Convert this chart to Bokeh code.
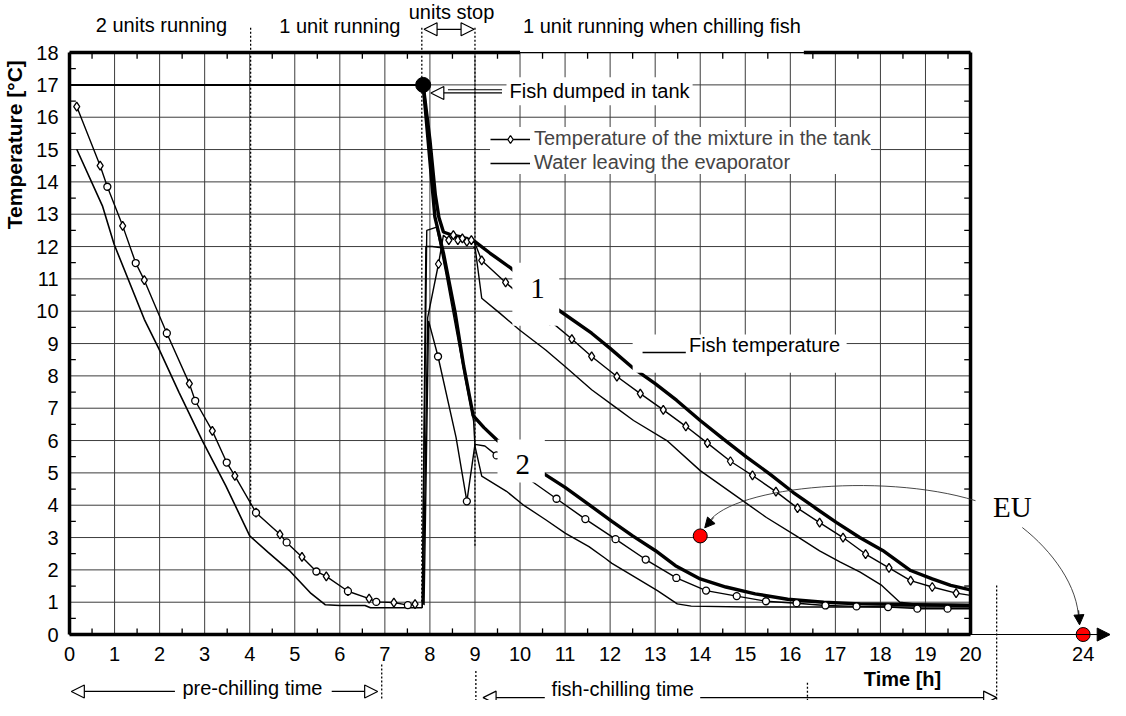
import numpy as np
from bokeh.plotting import figure
from bokeh.models import (Range1d, FixedTicker, Label, Arrow, NormalHead,
                          Legend, LegendItem)
from bokeh.embed import file_html
from bokeh.resources import INLINE

# ---------------- axis ticks ----------------
x_ticks = list(range(0, 21)) + [22.5]
x_tick_labels = [str(i) for i in range(0, 21)] + ["24"]
y_ticks = list(range(0, 19))

# ---------------- pre-chilling (0-8 h) ----------------
mix1_pre_h = [0.16, 0.68, 1.18, 1.66, 2.16, 2.66, 3.17, 3.67, 4.14, 4.67, 5.16, 5.70, 6.18, 6.65, 7.20, 7.67]
mix1_pre_T = [16.33, 14.50, 12.64, 10.96, 9.32, 7.76, 6.30, 4.91, 3.77, 3.10, 2.40, 1.80, 1.34, 1.11, 0.99, 0.94]
mix2_pre_h = [0.84, 1.47, 2.16, 2.79, 3.49, 4.14, 4.82, 5.48, 6.18, 6.81, 7.51]
mix2_pre_T = [13.85, 11.49, 9.32, 7.23, 5.32, 3.77, 2.85, 1.95, 1.34, 1.01, 0.91]
water_pre_h = [0.16, 0.73, 0.99, 1.66, 1.99, 2.43, 2.95, 3.47, 4.00, 4.41, 4.88, 5.36, 5.68, 6.00, 6.56, 6.68, 7.83]
water_pre_T = [15.01, 13.26, 12.07, 9.75, 8.82, 7.49, 5.99, 4.60, 3.05, 2.54, 1.98, 1.27, 0.92, 0.90, 0.90, 0.83, 0.83]

# ---------------- after fish dumped (run 1) ----------------
mix1_h = [7.85, 7.95, 8.19, 8.30, 8.42, 8.52, 8.62, 8.72, 8.82, 8.92, 9.00, 9.15, 9.68, 10.17, 10.66, 11.15,
          11.59, 12.15, 12.67, 13.18, 13.68, 14.16, 14.67, 15.16, 15.68, 16.16, 16.65, 17.17, 17.67, 18.19,
          18.67, 19.15, 19.68, 20.00]
mix1_T = [0.93, 9.80, 11.46, 12.35, 12.20, 12.35, 12.20, 12.25, 12.15, 12.20, 12.10, 11.57, 10.89, 10.30, 9.71, 9.14,
          8.60, 7.98, 7.45, 6.95, 6.44, 5.92, 5.36, 4.92, 4.42, 3.91, 3.46, 3.00, 2.49, 2.06,
          1.67, 1.47, 1.28, 1.21]
mix1_mark = [0, 0, 1, 0, 1, 1, 1, 1, 1, 1, 0, 1, 1, 1, 1, 1,
             1, 1, 1, 1, 1, 1, 1, 1, 1, 1, 1, 1, 1, 1,
             1, 1, 1, 0]
water1_h = [7.83, 7.91, 8.05, 8.30, 8.96, 9.00, 9.15, 9.55, 9.99, 10.57, 11.00, 11.59, 12.10, 12.52, 13.26, 14.00,
            14.73, 15.47, 16.13, 16.65, 17.10, 17.55, 18.03, 18.43, 18.75, 20.00]
water1_T = [0.83, 12.00, 12.00, 11.95, 11.95, 12.00, 10.40, 9.94, 9.42, 8.80, 8.29, 7.57, 7.05, 6.62, 6.00, 5.07,
            4.35, 3.62, 3.05, 2.59, 2.25, 1.93, 1.52, 1.00, 0.95, 0.93]
fish1_h = [7.85, 8.00, 8.12, 8.20, 8.30, 8.50, 8.70, 9.00, 9.33, 9.80, 10.30, 10.79, 11.59, 12.00, 12.52, 13.00,
           13.48, 14.00, 14.51, 15.03, 15.54, 16.06, 16.54, 17.02, 17.54, 18.05, 18.67, 19.15, 19.56, 20.00]
fish1_T = [17.00, 15.30, 13.60, 12.90, 12.45, 12.35, 12.30, 12.15, 11.80, 11.33, 10.70, 10.10, 9.32, 8.85, 8.23, 7.76,
           7.24, 6.62, 6.05, 5.49, 4.97, 4.40, 3.93, 3.47, 3.00, 2.60, 1.98, 1.72, 1.52, 1.38]

# ---------------- after fish dumped (run 2) ----------------
mix2_h = [7.87, 7.97, 8.18, 8.58, 8.82, 9.00, 9.22, 9.48, 10.15, 10.81, 11.45, 12.12, 12.79, 13.47, 14.13, 14.81,
          15.46, 16.14, 16.78, 17.47, 18.17, 18.82, 19.49, 20.00]
mix2_T = [0.91, 9.70, 8.60, 6.10, 4.12, 5.88, 5.83, 5.54, 4.85, 4.20, 3.57, 2.95, 2.32, 1.75, 1.36, 1.19,
          1.03, 0.97, 0.90, 0.87, 0.85, 0.80, 0.80, 0.80]
mix2_mark = [0, 0, 1, 0, 1, 0, 0, 1, 1, 1, 1, 1, 1, 1, 1, 1,
             1, 1, 1, 1, 1, 1, 1, 0]
water2_h = [7.83, 7.93, 8.15, 8.35, 8.60, 8.80, 8.97, 9.00, 9.15, 9.70, 10.06, 10.57, 11.01, 11.53, 11.89, 12.04,
            12.56, 13.05, 13.49, 13.80, 15.00, 20.00]
water2_T = [0.83, 12.50, 12.60, 11.20, 9.30, 7.80, 6.60, 5.83, 4.90, 4.43, 4.02, 3.55, 3.13, 2.72, 2.36, 2.20,
            1.77, 1.36, 0.95, 0.88, 0.85, 0.85]
fish2_h = [7.85, 8.11, 8.30, 8.56, 8.75, 8.96, 9.20, 9.50, 10.00, 10.50, 11.00, 11.50, 12.04, 12.50, 13.00, 13.45,
           14.00, 14.57, 15.22, 15.94, 16.74, 17.55, 20.00]
fish2_T = [17.00, 12.92, 11.80, 9.95, 8.30, 6.77, 6.40, 6.00, 5.55, 5.00, 4.55, 4.05, 3.50, 3.05, 2.60, 2.13,
           1.72, 1.47, 1.26, 1.09, 1.00, 0.95, 0.90]

# initial fish temperature / dump point
fish_init_h = [0.0, 7.85]
fish_init_T = [17.0, 17.0]
dump_h = [7.85]
dump_T = [17.0]

# EU points (3 degC at 14 h ; 0 degC at 24 h on the broken axis)
eu_h = [14.0, 22.5]
eu_T = [3.05, 0.0]

# ---------------- figure ----------------
FONT = "Liberation Sans"
SERIF = "Liberation Serif"
GRID = "#3c3c3c"
TS = "20px"

p = figure(width=1110, height=700, output_backend="svg", toolbar_location=None,
           x_range=Range1d(-1.532, 23.107), y_range=Range1d(-2.04, 19.61),
           min_border_left=0, min_border_right=0, min_border_top=0, min_border_bottom=0)
p.outline_line_color = None
p.grid.visible = False

xa = p.xaxis[0]
xa.fixed_location = 0
xa.ticker = FixedTicker(ticks=x_ticks, minor_ticks=[])
xa.major_label_overrides = {t: l for t, l in zip(x_ticks, x_tick_labels)}
xa.major_tick_in = 0
xa.major_tick_out = 0
xa.minor_tick_in = 0
xa.minor_tick_out = 0
xa.axis_line_color = "black"
xa.axis_line_width = 1
xa.bounds = (0, 23.1)
xa.major_label_text_font = FONT
xa.major_label_text_font_size = TS
xa.major_label_text_color = "black"
xa.major_label_standoff = 12

ya = p.yaxis[0]
ya.fixed_location = 0
ya.ticker = FixedTicker(ticks=y_ticks, minor_ticks=[])
ya.major_tick_in = 0
ya.major_tick_out = 0
ya.minor_tick_in = 0
ya.minor_tick_out = 0
ya.axis_line_color = None
ya.major_label_text_font = FONT
ya.major_label_text_font_size = TS
ya.major_label_text_color = "black"
ya.major_label_standoff = 11

# grid
hours = np.arange(0, 21)
temps = np.arange(0, 19)
p.segment(x0=hours, y0=0, x1=hours, y1=18, line_color=GRID, line_width=1)
p.segment(x0=0, y0=temps, x1=20, y1=temps, line_color=GRID, line_width=1)

# half-unit inner ticks
half_h = np.arange(0.5, 20, 1)
half_T = np.arange(0.5, 18, 1)
dx, dy = 0.14, 0.19
p.segment(x0=half_h, y0=0, x1=half_h, y1=dy, line_color="black", line_width=1.3)
p.segment(x0=half_h, y0=18, x1=half_h, y1=18 - dy, line_color="black", line_width=1.3)
p.segment(x0=0, y0=half_T, x1=dx, y1=half_T, line_color="black", line_width=1.3)
p.segment(x0=20, y0=half_T, x1=20 - dx, y1=half_T, line_color="black", line_width=1.3)

# dotted phase lines
dot_x0 = [4.02, 7.82, 9.00, 6.93, 9.02, 16.38, 20.58]
dot_y0 = [18.77, 18.77, 18.77, -0.93, -1.13, -1.49, 1.52]
dot_y1 = [3.90, 0.96, 2.72, -2.10, -2.10, -2.10, -2.10]
p.segment(x0=dot_x0, y0=dot_y0, x1=dot_x0, y1=dot_y1, line_color="black",
          line_width=1.3, line_dash="2 2")

# data lines
pre_h = np.concatenate([mix1_pre_h, mix2_pre_h])
pre_T = np.concatenate([mix1_pre_T, mix2_pre_T])
order = np.argsort(pre_h, kind="stable")
pre_h, pre_T = pre_h[order], pre_T[order]

LW = 1.4
p.line(pre_h, pre_T, line_color="black", line_width=LW)
p.line(water_pre_h, water_pre_T, line_color="black", line_width=1.6)
p.line(fish_init_h, fish_init_T, line_color="black", line_width=2)

r_w1 = p.line(water1_h, water1_T, line_color="black", line_width=LW)
p.line(water2_h, water2_T, line_color="black", line_width=LW)
p.line(fish1_h, fish1_T, line_color="black", line_width=3.4)
p.line(fish2_h, fish2_T, line_color="black", line_width=3.4)
r_m1 = p.line(mix1_h, mix1_T, line_color="black", line_width=LW)
p.line(mix2_h, mix2_T, line_color="black", line_width=LW)

m1h = [h for h, m in zip(mix1_h, mix1_mark) if m] + mix1_pre_h
m1T = [t for t, m in zip(mix1_T, mix1_mark) if m] + mix1_pre_T
m2h = [h for h, m in zip(mix2_h, mix2_mark) if m] + mix2_pre_h
m2T = [t for t, m in zip(mix2_T, mix2_mark) if m] + mix2_pre_T
r_d = p.scatter(m1h, m1T, marker="diamond", size=9, fill_color="white",
                line_color="black", line_width=1.3)
p.scatter(m2h, m2T, marker="circle", size=7, fill_color="white",
          line_color="black", line_width=1.3)

p.scatter(dump_h, dump_T, marker="circle", size=15, fill_color="black", line_color="black")

# thick frame
p.multi_line(xs=[[0, 0], [0, 20], [20, 20], [0, 10], [16.3, 20]],
             ys=[[0, 18], [0, 0], [0, 18], [18, 18], [18, 18]],
             line_color="black", line_width=3.5)
p.line([10, 16.3], [18, 18], line_color="black", line_width=1.2)

# white boxes behind the curve numbers / fish label
p.quad(left=[9.83, 9.50, 12.50], right=[10.87, 10.55, 17.25],
       bottom=[9.55, 4.70, 8.10], top=[11.50, 6.03, 9.28],
       fill_color="white", line_color=None)

# EU markers
p.scatter(eu_h, eu_T, marker="circle", size=14, fill_color="#ff0000",
          line_color="black", line_width=1)

# EU curved arrows
p.bezier(x0=[20.11, 21.15], y0=[4.14, 3.31], x1=[14.14, 22.40], y1=[3.36, 0.42],
         cx0=[18.0, 21.8], cy0=[5.05, 2.6], cx1=[14.5, 22.4], cy1=[4.55, 1.5],
         line_color="#333333", line_width=0.9)
for xs_, ys_, xe_, ye_ in [(14.30, 3.62, 14.10, 3.30), (22.40, 0.75, 22.42, 0.30)]:
    p.add_layout(Arrow(end=NormalHead(size=10, fill_color="black", line_color="black"),
                       x_start=xs_, y_start=ys_, x_end=xe_, y_end=ye_,
                       line_color="black", line_width=0.9))

# axis extension arrow
p.add_layout(Arrow(end=NormalHead(size=13, fill_color="black", line_color="black"),
                   x_start=22.6, y_start=0, x_end=23.1, y_end=0, line_width=1))


def hollow():
    return NormalHead(size=13, fill_color="white", line_color="black", line_width=1.2)


def span_arrow(x_from, x_to, y):
    p.add_layout(Arrow(end=hollow(), x_start=x_from, y_start=y, x_end=x_to, y_end=y,
                       line_width=1.3))


# phase arrows
p.add_layout(Arrow(start=hollow(), end=hollow(), x_start=7.87, y_start=18.72,
                   x_end=8.98, y_end=18.72, line_width=1.3))
span_arrow(2.34, 0.04, -1.76)
span_arrow(5.82, 6.84, -1.76)
span_arrow(10.55, 9.18, -1.95)
span_arrow(14.00, 20.58, -1.95)
# fish dumped arrow (double shaft)
p.add_layout(Arrow(end=hollow(), x_start=9.60, y_start=16.75, x_end=8.02, y_end=16.75,
                   line_width=1.2))
p.segment(x0=[8.4], y0=[16.85], x1=[9.6], y1=[16.85], line_color="black", line_width=1.2)

# fish temperature key line
p.segment(x0=[12.72], y0=[8.72], x1=[13.68], y1=[8.72], line_color="black", line_width=1.5)


def lab(x, y, text, size=TS, font=FONT, align="left", bg=None, style="normal", angle=0, pad=0):
    kw = dict(x=x, y=y, text=text, text_font=font, text_font_size=size,
              text_align=align, text_baseline="middle", text_color="black",
              text_font_style=style, angle=angle)
    if bg:
        kw.update(background_fill_color=bg, padding=pad)
    p.add_layout(Label(**kw))


lab(2.04, 18.84, "2 units running", align="center")
lab(6.0, 18.82, "1 unit running", align="center")
lab(8.48, 19.25, "units stop", align="center")
lab(13.15, 18.82, "1 unit running when chilling fish", align="center")
lab(9.70, 16.80, "Fish dumped in tank", bg="white", pad=3)
lab(13.75, 8.94, "Fish temperature")
lab(4.06, -1.66, "pre-chilling time", align="center")
lab(12.28, -1.68, "fish-chilling time", align="center")
lab(18.49, -1.39, "Time [h]", size="20px", align="center", style="bold")
lab(-1.22, 15.15, "Temperature [°C]", size="21px", align="center", style="bold", angle=np.pi / 2)
lab(10.39, 10.70, "1", size="29px", font=SERIF, align="center")
lab(10.06, 5.27, "2", size="29px", font=SERIF, align="center")
lab(20.93, 3.93, "EU", size="29px", font=SERIF, align="center")

legend = Legend(items=[LegendItem(label="Temperature of the mixture in the tank", renderers=[r_m1, r_d]),
                       LegendItem(label="Water leaving the evaporator", renderers=[r_w1])],
                location=(490, 526), label_text_font=FONT, label_text_font_size=TS,
                glyph_width=40, glyph_height=20, label_height=20, label_standoff=4,
                spacing=1, padding=4, margin=0, border_line_color=None,
                background_fill_color="white", background_fill_alpha=1.0)
p.add_layout(legend)

open("out.html", "w").write(file_html(p, INLINE))
